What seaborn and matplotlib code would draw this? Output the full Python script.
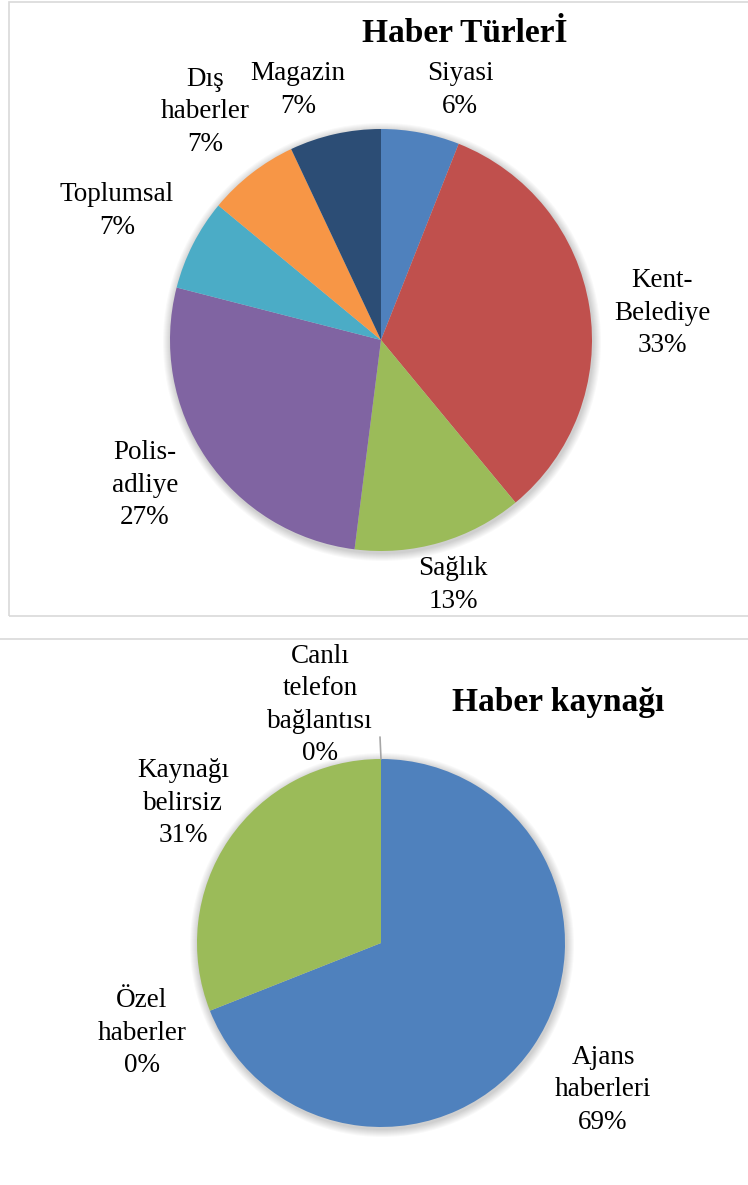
import matplotlib
matplotlib.use("Agg")
import matplotlib.pyplot as plt
import seaborn as sns
from matplotlib.patches import Circle, Rectangle
from matplotlib.lines import Line2D

# ---------------- data ----------------
top_title = "Haber Türlerİ"
top_labels = ["Siyasi", "Kent-\nBelediye", "Sağlık", "Polis-\nadliye", "Toplumsal", "Dış\nhaberler", "Magazin"]
top_values = [6, 33, 13, 27, 7, 7, 7]
top_colors = ["#4F81BD", "#C0504D", "#9BBB59", "#8064A2", "#4BACC6", "#F79646", "#2C4D75"]

bot_title = "Haber kaynağı"
bot_labels = ["Ajans\nhaberleri", "Özel\nhaberler", "Kaynağı\nbelirsiz", "Canlı\ntelefon\nbağlantısı"]
bot_values = [69, 0, 31, 0]
bot_colors = ["#4F81BD", "#C0504D", "#9BBB59", "#8064A2"]

# ---------------- layout (pixels, y up) ----------------
W, H = 748, 1185
top_center = (381, H - 340)
top_radius = 211
top_label_offsets = [(79, 250), (281, 27), (72, -245), (-236, -145), (-264, 129), (-176, 228), (-83, 250)]
top_title_pos = (465, H - 33)

bot_center = (381, H - 943)
bot_radius = 184
bot_label_offsets = [(222, -147), (-239, -90), (-198, 140), (-61, 238)]
bot_title_pos = (558, H - 703)

sns.set_theme(style="white")
plt.rcParams["font.family"] = ["Liberation Serif", "DejaVu Serif"]

fig = plt.figure(figsize=(W / 100, H / 100), dpi=100)
ax = fig.add_axes([0, 0, 1, 1])
ax.set_xlim(0, W)
ax.set_ylim(0, H)
ax.set_aspect("equal")
ax.axis("off")

# frames
ax.add_patch(Rectangle((9.5, H - 616), 760, 614, fill=False, edgecolor="#D9D9D9", lw=1.2, clip_on=False))
ax.add_line(Line2D([0, W], [H - 639, H - 639], color="#D9D9D9", lw=1.2))

LABEL_FS = 19.5
TITLE_FS = 24


def soft_shadow(center, radius):
    for k in range(8, 0, -1):
        ax.add_patch(Circle((center[0] + 1, center[1] - 2), radius + k, color="#000000", alpha=0.025, lw=0, zorder=0))


def draw_pie(values, colors, labels, offsets, center, radius, title, title_pos):
    soft_shadow(center, radius)
    ax.pie(values, colors=colors, startangle=90, counterclock=False, center=center, radius=radius,
           wedgeprops=dict(linewidth=0), normalize=True, frame=True)
    total = sum(values)
    for lab, v, (dx, dy) in zip(labels, values, offsets):
        pct = f"{round(100 * v / total)}%"
        ax.text(center[0] + dx, center[1] + dy, f"{lab}\n{pct}", ha="center", va="center",
                fontsize=LABEL_FS, color="#000000", linespacing=1.4, multialignment="center")
    ax.text(title_pos[0], title_pos[1], title, ha="center", va="center", fontsize=TITLE_FS,
            fontweight="bold", color="#000000")


draw_pie(top_values, top_colors, top_labels, top_label_offsets, top_center, top_radius, top_title, top_title_pos)
draw_pie(bot_values, bot_colors, bot_labels, bot_label_offsets, bot_center, bot_radius, bot_title, bot_title_pos)

# leader line for the zero slice at the top of the lower pie
ax.add_line(Line2D([bot_center[0] - 1, bot_center[0]], [bot_center[1] + bot_radius + 22, bot_center[1] + bot_radius],
                   color="#A6A6A6", lw=1.2))

ax.set_xlim(0, W)
ax.set_ylim(0, H)
ax.axis("off")
fig.savefig("out.png", dpi=100)
